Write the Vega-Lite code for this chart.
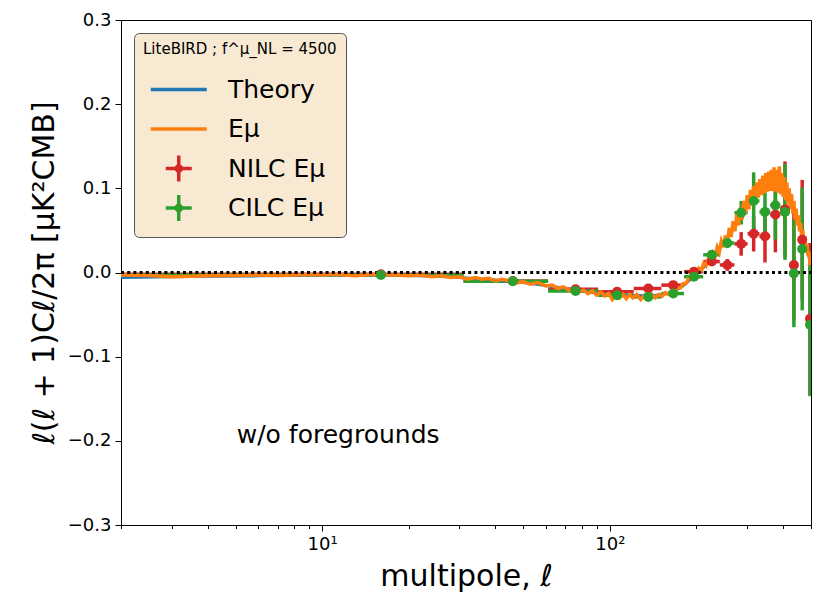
{
  "$schema": "https://vega.github.io/schema/vega-lite/v6.json",
  "width": 690,
  "height": 505,
  "autosize": {"type": "none"},
  "padding": {"left": 121, "top": 20, "right": 20, "bottom": 87},
  "background": "white",
  "config": {
    "font": "DejaVu Sans",
    "view": {"stroke": "black", "strokeWidth": 1},
    "axis": {
      "grid": false,
      "domainColor": "black",
      "tickColor": "black",
      "labelColor": "black",
      "titleColor": "black",
      "labelFont": "DejaVu Sans",
      "titleFont": "DejaVu Sans",
      "titleFontWeight": "normal"
    },
    "legend": {
      "orient": "none", "legendX": 13, "legendY": 13,
      "fillColor": "#f8e9d2", "strokeColor": "#555555", "cornerRadius": 5,
      "padding": 9,
      "titleFontSize": 15, "titleFontWeight": "normal", "titleColor": "black", "titlePadding": 20, "titleLimit": 400,
      "labelFontSize": 25, "labelColor": "black", "labelLimit": 300,
      "symbolSize": 400, "symbolStrokeWidth": 3.5, "symbolOffset": 0, "labelOffset": 60,
      "symbolOpacity": 1,
      "rowPadding": -1.5
    }
  },
  "datasets": {
    "theory": [
      {"l": 2, "y": -0.006}, {"l": 3, "y": -0.005}, {"l": 4, "y": -0.0045}, {"l": 6, "y": -0.004},
      {"l": 8, "y": -0.0035}, {"l": 10, "y": -0.003}, {"l": 15, "y": -0.003}, {"l": 20, "y": -0.0035},
      {"l": 25, "y": -0.0045}, {"l": 30, "y": -0.006}, {"l": 40, "y": -0.009}, {"l": 50, "y": -0.012},
      {"l": 60, "y": -0.0155}, {"l": 70, "y": -0.019}, {"l": 80, "y": -0.022}, {"l": 90, "y": -0.0245},
      {"l": 100, "y": -0.026}, {"l": 115, "y": -0.027}, {"l": 130, "y": -0.0275}, {"l": 145, "y": -0.027},
      {"l": 160, "y": -0.0245}, {"l": 170, "y": -0.021}, {"l": 180, "y": -0.0155}, {"l": 190, "y": -0.0085},
      {"l": 200, "y": -0.002}, {"l": 210, "y": 0.005}, {"l": 220, "y": 0.012}, {"l": 230, "y": 0.02},
      {"l": 240, "y": 0.028}, {"l": 250, "y": 0.036}, {"l": 260, "y": 0.045}, {"l": 270, "y": 0.054},
      {"l": 280, "y": 0.064}, {"l": 290, "y": 0.073}, {"l": 300, "y": 0.081}, {"l": 310, "y": 0.088},
      {"l": 320, "y": 0.094}, {"l": 330, "y": 0.099}, {"l": 340, "y": 0.103}, {"l": 350, "y": 0.106},
      {"l": 360, "y": 0.108}, {"l": 370, "y": 0.109}, {"l": 380, "y": 0.108}, {"l": 390, "y": 0.106},
      {"l": 400, "y": 0.102}, {"l": 410, "y": 0.097}, {"l": 420, "y": 0.091}, {"l": 430, "y": 0.083},
      {"l": 440, "y": 0.072}, {"l": 450, "y": 0.062}, {"l": 460, "y": 0.053}, {"l": 470, "y": 0.043},
      {"l": 480, "y": 0.032}, {"l": 490, "y": 0.021}, {"l": 500, "y": 0.01}
    ],
    "emu": [
      {"l": 2, "y": -0.003}, {"l": 2.5, "y": -0.0035}, {"l": 3, "y": -0.005}, {"l": 3.5, "y": -0.0045},
      {"l": 4, "y": -0.004}, {"l": 5, "y": -0.0035}, {"l": 6, "y": -0.003}, {"l": 7, "y": -0.0035},
      {"l": 8, "y": -0.003}, {"l": 9, "y": -0.0025}, {"l": 10, "y": -0.003}, {"l": 11, "y": -0.002},
      {"l": 12, "y": -0.003}, {"l": 13, "y": -0.004}, {"l": 14, "y": -0.003}, {"l": 15, "y": -0.002},
      {"l": 16, "y": -0.003}, {"l": 18, "y": -0.003}, {"l": 20, "y": -0.004}, {"l": 22, "y": -0.003},
      {"l": 24, "y": -0.005}, {"l": 26, "y": -0.004}, {"l": 28, "y": -0.006}, {"l": 30, "y": -0.005},
      {"l": 32, "y": -0.008}, {"l": 34, "y": -0.006}, {"l": 36, "y": -0.008}, {"l": 38, "y": -0.007},
      {"l": 40, "y": -0.01}, {"l": 42, "y": -0.008}, {"l": 45, "y": -0.01}, {"l": 48, "y": -0.012},
      {"l": 50, "y": -0.011}, {"l": 53, "y": -0.014}, {"l": 56, "y": -0.012}, {"l": 60, "y": -0.016},
      {"l": 63, "y": -0.015}, {"l": 66, "y": -0.019}, {"l": 69, "y": -0.017}, {"l": 72, "y": -0.021},
      {"l": 75, "y": -0.019}, {"l": 78, "y": -0.023}, {"l": 81, "y": -0.021}, {"l": 84, "y": -0.025},
      {"l": 87, "y": -0.022}, {"l": 90, "y": -0.027}, {"l": 93, "y": -0.023}, {"l": 96, "y": -0.028},
      {"l": 99, "y": -0.025}, {"l": 102, "y": -0.032}, {"l": 105, "y": -0.026}, {"l": 108, "y": -0.03},
      {"l": 111, "y": -0.026}, {"l": 114, "y": -0.031}, {"l": 117, "y": -0.026}, {"l": 120, "y": -0.03},
      {"l": 124, "y": -0.026}, {"l": 128, "y": -0.032}, {"l": 132, "y": -0.027}, {"l": 136, "y": -0.03},
      {"l": 140, "y": -0.026}, {"l": 144, "y": -0.03}, {"l": 148, "y": -0.026}, {"l": 152, "y": -0.028},
      {"l": 156, "y": -0.024}, {"l": 160, "y": -0.026}, {"l": 164, "y": -0.022}, {"l": 168, "y": -0.023},
      {"l": 172, "y": -0.018}, {"l": 176, "y": -0.018}, {"l": 180, "y": -0.013}, {"l": 184, "y": -0.013},
      {"l": 188, "y": -0.007}, {"l": 192, "y": -0.007}, {"l": 196, "y": -0.001}, {"l": 200, "y": -0.002},
      {"l": 204, "y": 0.005}, {"l": 208, "y": 0.003}, {"l": 212, "y": 0.011}, {"l": 216, "y": 0.008},
      {"l": 220, "y": 0.017}, {"l": 224, "y": 0.013}, {"l": 228, "y": 0.023}, {"l": 232, "y": 0.019},
      {"l": 236, "y": 0.03}, {"l": 240, "y": 0.024}, {"l": 244, "y": 0.037}, {"l": 248, "y": 0.03},
      {"l": 252, "y": 0.044}, {"l": 256, "y": 0.036}, {"l": 260, "y": 0.053}, {"l": 264, "y": 0.042},
      {"l": 268, "y": 0.061}, {"l": 272, "y": 0.049}, {"l": 276, "y": 0.069}, {"l": 280, "y": 0.056},
      {"l": 284, "y": 0.077}, {"l": 288, "y": 0.063}, {"l": 292, "y": 0.085}, {"l": 296, "y": 0.07},
      {"l": 300, "y": 0.092}, {"l": 304, "y": 0.075}, {"l": 308, "y": 0.098}, {"l": 312, "y": 0.08},
      {"l": 316, "y": 0.103}, {"l": 320, "y": 0.085}, {"l": 324, "y": 0.107}, {"l": 328, "y": 0.089},
      {"l": 332, "y": 0.111}, {"l": 336, "y": 0.092}, {"l": 340, "y": 0.115}, {"l": 344, "y": 0.094},
      {"l": 348, "y": 0.118}, {"l": 352, "y": 0.096}, {"l": 356, "y": 0.12}, {"l": 360, "y": 0.097},
      {"l": 364, "y": 0.122}, {"l": 368, "y": 0.097}, {"l": 372, "y": 0.125}, {"l": 376, "y": 0.096},
      {"l": 380, "y": 0.122}, {"l": 384, "y": 0.095}, {"l": 388, "y": 0.126}, {"l": 392, "y": 0.093},
      {"l": 396, "y": 0.118}, {"l": 400, "y": 0.09}, {"l": 404, "y": 0.113}, {"l": 408, "y": 0.086},
      {"l": 412, "y": 0.107}, {"l": 416, "y": 0.081}, {"l": 420, "y": 0.1}, {"l": 424, "y": 0.076},
      {"l": 428, "y": 0.093}, {"l": 432, "y": 0.07}, {"l": 436, "y": 0.085}, {"l": 440, "y": 0.063},
      {"l": 444, "y": 0.076}, {"l": 448, "y": 0.056}, {"l": 452, "y": 0.068}, {"l": 456, "y": 0.049},
      {"l": 460, "y": 0.059}, {"l": 464, "y": 0.042}, {"l": 468, "y": 0.051}, {"l": 472, "y": 0.035},
      {"l": 476, "y": 0.043}, {"l": 480, "y": 0.028}, {"l": 484, "y": 0.034}, {"l": 488, "y": 0.02},
      {"l": 492, "y": 0.025}, {"l": 496, "y": 0.011}, {"l": 500, "y": 0.012}
    ],
    "nilc": [
      {"l": 16, "xlo": 1, "xhi": 31, "y": -0.002, "ylo": -0.003, "yhi": -0.001},
      {"l": 46, "xlo": 31, "xhi": 61, "y": -0.01, "ylo": -0.0115, "yhi": -0.0085},
      {"l": 76, "xlo": 61, "xhi": 91, "y": -0.02, "ylo": -0.022, "yhi": -0.018},
      {"l": 106, "xlo": 91, "xhi": 121, "y": -0.023, "ylo": -0.026, "yhi": -0.02},
      {"l": 136, "xlo": 121, "xhi": 151, "y": -0.019, "ylo": -0.022, "yhi": -0.016},
      {"l": 166, "xlo": 151, "xhi": 181, "y": -0.015, "ylo": -0.018, "yhi": -0.012},
      {"l": 196, "xlo": 181, "xhi": 211, "y": 0.001, "ylo": -0.003, "yhi": 0.005},
      {"l": 226, "xlo": 211, "xhi": 241, "y": 0.013, "ylo": 0.008, "yhi": 0.018},
      {"l": 256, "xlo": 241, "xhi": 271, "y": 0.009, "ylo": 0.002, "yhi": 0.016},
      {"l": 286, "xlo": 271, "xhi": 301, "y": 0.034, "ylo": 0.02, "yhi": 0.048},
      {"l": 316, "xlo": 301, "xhi": 331, "y": 0.046, "ylo": 0.025, "yhi": 0.067},
      {"l": 346, "xlo": 331, "xhi": 361, "y": 0.043, "ylo": 0.012, "yhi": 0.072},
      {"l": 376, "xlo": 361, "xhi": 391, "y": 0.069, "ylo": 0.024, "yhi": 0.114},
      {"l": 406, "xlo": 391, "xhi": 421, "y": 0.075, "ylo": 0.018, "yhi": 0.132},
      {"l": 436, "xlo": 421, "xhi": 451, "y": 0.009, "ylo": -0.057, "yhi": 0.075},
      {"l": 466, "xlo": 451, "xhi": 481, "y": 0.039, "ylo": -0.032, "yhi": 0.11},
      {"l": 496, "xlo": 481, "xhi": 511, "y": -0.055, "ylo": -0.145, "yhi": 0.035}
    ],
    "cilc": [
      {"l": 16, "xlo": 1, "xhi": 31, "y": -0.003, "ylo": -0.004, "yhi": -0.002},
      {"l": 46, "xlo": 31, "xhi": 61, "y": -0.0105, "ylo": -0.012, "yhi": -0.009},
      {"l": 76, "xlo": 61, "xhi": 91, "y": -0.022, "ylo": -0.024, "yhi": -0.02},
      {"l": 106, "xlo": 91, "xhi": 121, "y": -0.027, "ylo": -0.03, "yhi": -0.024},
      {"l": 136, "xlo": 121, "xhi": 151, "y": -0.029, "ylo": -0.032, "yhi": -0.026},
      {"l": 166, "xlo": 151, "xhi": 181, "y": -0.025, "ylo": -0.028, "yhi": -0.022},
      {"l": 196, "xlo": 181, "xhi": 211, "y": -0.005, "ylo": -0.009, "yhi": -0.001},
      {"l": 226, "xlo": 211, "xhi": 241, "y": 0.021, "ylo": 0.016, "yhi": 0.026},
      {"l": 256, "xlo": 241, "xhi": 271, "y": 0.035, "ylo": 0.029, "yhi": 0.041},
      {"l": 286, "xlo": 271, "xhi": 301, "y": 0.071, "ylo": 0.057, "yhi": 0.085},
      {"l": 316, "xlo": 301, "xhi": 331, "y": 0.085, "ylo": 0.051, "yhi": 0.119},
      {"l": 346, "xlo": 331, "xhi": 361, "y": 0.072, "ylo": 0.039, "yhi": 0.105},
      {"l": 376, "xlo": 361, "xhi": 391, "y": 0.08, "ylo": 0.039, "yhi": 0.121},
      {"l": 406, "xlo": 391, "xhi": 421, "y": 0.072, "ylo": 0.015, "yhi": 0.129},
      {"l": 436, "xlo": 421, "xhi": 451, "y": -0.001, "ylo": -0.065, "yhi": 0.063},
      {"l": 466, "xlo": 451, "xhi": 481, "y": 0.028, "ylo": -0.045, "yhi": 0.101},
      {"l": 496, "xlo": 481, "xhi": 511, "y": -0.062, "ylo": -0.147, "yhi": 0.023}
    ],
    "zero": [
      {"xlo": 2, "xhi": 500, "y": 0}
    ],
    "series": [
      {"series": "Theory"}, {"series": "Eμ"}, {"series": "NILC Eμ"}, {"series": "CILC Eμ"}
    ],
    "note": [
      {"l": 5.05, "y": -0.193, "text": "w/o foregrounds"}
    ]
  },
  "encoding": {
    "x": {
      "field": "l",
      "type": "quantitative",
      "scale": {"type": "log", "domain": [2, 500], "nice": false},
      "axis": {
        "title": "multipole, ℓ",
        "titleFontSize": 30,
        "titlePadding": 8,
        "values": [2, 3, 4, 5, 6, 7, 8, 9, 10, 20, 30, 40, 50, 60, 70, 80, 90, 100, 200, 300, 400, 500],
        "labelExpr": "datum.value == 10 ? '10¹' : datum.value == 100 ? '10²' : ''",
        "labelFontSize": 18,
        "labelPadding": 4,
        "labelFlush": false,
        "labelOverlap": false,
        "tickSize": {"condition": {"test": "datum.value == 10 || datum.value == 100", "value": 6}, "value": 3.5}
      }
    },
    "y": {
      "field": "y",
      "type": "quantitative",
      "scale": {"domain": [-0.3, 0.3], "nice": false},
      "axis": {
        "title": "ℓ(ℓ + 1)Cℓ/2π [μK²CMB]",
        "titleFontSize": 30,
        "titlePadding": 8,
        "values": [-0.3, -0.2, -0.1, 0, 0.1, 0.2, 0.3],
        "format": ".1f",
        "labelFontSize": 18,
        "labelPadding": 4,
        "tickSize": 6,
        "labelFlush": false
      }
    }
  },
  "layer": [
    {
      "data": {"name": "nilc"},
      "mark": {"type": "rule", "color": "#d62728", "strokeWidth": 3.5, "clip": true},
      "encoding": {"x": {"field": "xlo", "type": "quantitative"}, "x2": {"field": "xhi"}}
    },
    {
      "data": {"name": "nilc"},
      "mark": {"type": "rule", "color": "#d62728", "strokeWidth": 3.5, "clip": true},
      "encoding": {"y": {"field": "ylo", "type": "quantitative"}, "y2": {"field": "yhi"}}
    },
    {
      "data": {"name": "cilc"},
      "mark": {"type": "rule", "color": "#2ca02c", "strokeWidth": 3.5, "clip": true},
      "encoding": {"x": {"field": "xlo", "type": "quantitative"}, "x2": {"field": "xhi"}}
    },
    {
      "data": {"name": "cilc"},
      "mark": {"type": "rule", "color": "#2ca02c", "strokeWidth": 3.5, "clip": true},
      "encoding": {"y": {"field": "ylo", "type": "quantitative"}, "y2": {"field": "yhi"}}
    },
    {
      "data": {"name": "theory"},
      "mark": {"type": "line", "color": "#1f77b4", "strokeWidth": 3, "clip": true}
    },
    {
      "data": {"name": "emu"},
      "mark": {"type": "line", "color": "#ff7f0e", "strokeWidth": 3.5, "clip": true}
    },
    {
      "data": {"name": "zero"},
      "mark": {"type": "rule", "color": "black", "strokeWidth": 3, "strokeDash": [3, 3.2], "strokeCap": "butt"},
      "encoding": {"x": {"field": "xlo", "type": "quantitative"}, "x2": {"field": "xhi"}}
    },
    {
      "data": {"name": "nilc"},
      "mark": {"type": "point", "shape": "circle", "filled": true, "size": 100, "opacity": 1, "color": "#d62728", "clip": true}
    },
    {
      "data": {"name": "cilc"},
      "mark": {"type": "point", "shape": "circle", "filled": true, "size": 100, "opacity": 1, "color": "#2ca02c", "clip": true}
    },
    {
      "data": {"name": "series"},
      "mark": {"type": "point", "filled": false, "opacity": 0, "strokeWidth": 3.5, "strokeCap": "butt"},
      "encoding": {
        "x": {"datum": 10, "type": "quantitative"},
        "y": {"datum": 0, "type": "quantitative"},
        "color": {
          "field": "series",
          "type": "nominal",
          "scale": {"domain": ["Theory", "Eμ", "NILC Eμ", "CILC Eμ"], "range": ["#1f77b4", "#ff7f0e", "#d62728", "#2ca02c"]},
          "legend": {"title": "LiteBIRD ; f^μ_NL = 4500", "symbolOpacity": 1}
        },
        "shape": {
          "field": "series",
          "type": "nominal",
          "scale": {
            "domain": ["Theory", "Eμ", "NILC Eμ", "CILC Eμ"],
            "range": [
              "M-0.475,0H5.125M2.325,-1.3V-1.3M2.325,1.3V1.3",
              "M-0.475,0H5.125M2.325,-1.3V-1.3M2.325,1.3V1.3",
              "M1.025,0H3.625M2.325,-1.3V1.3M2.575,-0.1L2.575,0.1L2.425,0.25L2.225,0.25L2.075,0.1L2.075,-0.1L2.225,-0.25L2.425,-0.25Z",
              "M1.025,0H3.625M2.325,-1.3V1.3M2.575,-0.1L2.575,0.1L2.425,0.25L2.225,0.25L2.075,0.1L2.075,-0.1L2.225,-0.25L2.425,-0.25Z"
            ]
          },
          "legend": {"title": "LiteBIRD ; f^μ_NL = 4500", "symbolOpacity": 1}
        }
      }
    },
    {
      "data": {"name": "note"},
      "mark": {"type": "text", "align": "left", "baseline": "middle", "fontSize": 25, "font": "DejaVu Sans", "color": "black"},
      "encoding": {"text": {"field": "text"}}
    }
  ]
}
